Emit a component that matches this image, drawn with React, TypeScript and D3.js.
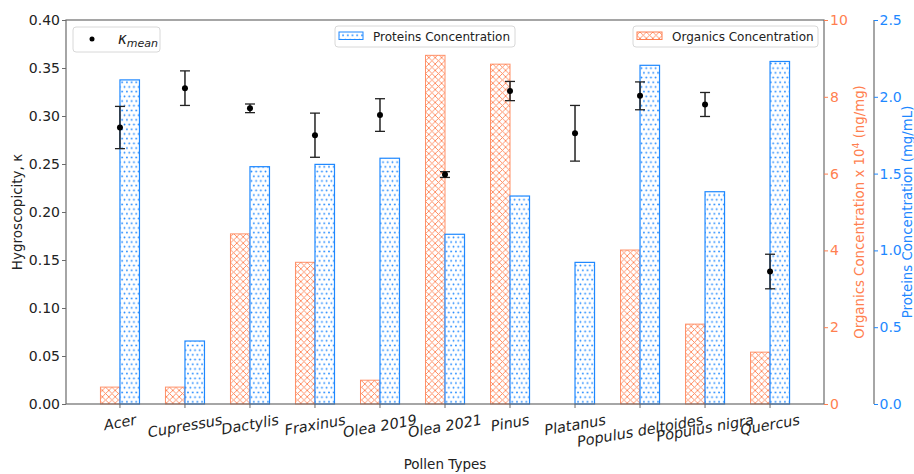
import React, { useEffect, useRef } from 'react';
import * as d3 from 'd3';

const categories = [
  'Acer', 'Cupressus', 'Dactylis', 'Fraxinus', 'Olea 2019', 'Olea 2021',
  'Pinus', 'Platanus', 'Populus deltoides', 'Populus nigra', 'Quercus',
];
const kappaMean = [0.288, 0.329, 0.308, 0.280, 0.301, 0.239, 0.326, 0.282, 0.321, 0.312, 0.138];
const kappaErr = [0.022, 0.018, 0.0045, 0.023, 0.017, 0.003, 0.010, 0.029, 0.0145, 0.0125, 0.018];
const organics = [0.44, 0.44, 4.43, 3.69, 0.62, 9.08, 8.85, 0, 4.01, 2.08, 1.35];
const proteins = [2.11, 0.41, 1.545, 1.56, 1.6, 1.105, 1.354, 0.922, 2.205, 1.382, 2.23];

const kappaTicks = [0, 0.05, 0.1, 0.15, 0.2, 0.25, 0.3, 0.35, 0.4];
const organicsTicks = [0, 2, 4, 6, 8, 10];
const proteinsTicks = [0, 0.5, 1.0, 1.5, 2.0, 2.5];

const ORANGE = '#ff7f50';
const BLUE = '#1e88ff';
const SPINE = '#6b6b6b';
const FONT = 'DejaVu Sans, sans-serif';

export default function App() {
  const svgRef = useRef<SVGSVGElement>(null);

  useEffect(() => {
    if (!svgRef.current) return;
    const svg = d3.select(svgRef.current);
    svg.selectAll('*').remove();

    const left = 66, right = 824, top = 20, bottom = 404;
    const protAxisX = 874;
    const barW = 0.3;
    const pad = 0.05 * (categories.length - 1 + 2 * barW);

    const x = d3.scaleLinear()
      .domain([-barW - pad, categories.length - 1 + barW + pad])
      .range([left, right]);
    const yK = d3.scaleLinear().domain([0, 0.4]).range([bottom, top]);
    const yO = d3.scaleLinear().domain([0, 10]).range([bottom, top]);
    const yP = d3.scaleLinear().domain([0, 2.5]).range([bottom, top]);

    // hatch patterns
    const defs = svg.append('defs');
    const s = 6.4;
    const cross = defs.append('pattern')
      .attr('id', 'hatch-x')
      .attr('patternUnits', 'userSpaceOnUse')
      .attr('width', s).attr('height', s);
    cross.append('rect').attr('width', s).attr('height', s).attr('fill', 'white');
    cross.append('path')
      .attr('d', `M0,0L${s},${s}M0,${s}L${s},0`)
      .attr('stroke', ORANGE).attr('stroke-width', 0.85);

    const ds = 4.7;
    const dots = defs.append('pattern')
      .attr('id', 'hatch-dot')
      .attr('patternUnits', 'userSpaceOnUse')
      .attr('width', ds).attr('height', ds * 2);
    dots.append('rect').attr('width', ds).attr('height', ds * 2).attr('fill', 'white');
    dots.append('circle').attr('cx', ds / 2).attr('cy', ds / 2).attr('r', 0.9).attr('fill', BLUE);
    dots.append('circle').attr('cx', 0).attr('cy', ds * 1.5).attr('r', 0.9).attr('fill', BLUE);
    dots.append('circle').attr('cx', ds).attr('cy', ds * 1.5).attr('r', 0.9).attr('fill', BLUE);

    // bars
    svg.append('g').selectAll('rect')
      .data(organics)
      .join('rect')
      .attr('x', (_, i) => x(i - barW))
      .attr('y', d => yO(d))
      .attr('width', (_, i) => x(i) - x(i - barW))
      .attr('height', d => yO(0) - yO(d))
      .attr('fill', 'url(#hatch-x)')
      .attr('stroke', ORANGE)
      .attr('stroke-opacity', 0.85)
      .attr('stroke-width', d => (d > 0 ? 1 : 0));

    svg.append('g').selectAll('rect')
      .data(proteins)
      .join('rect')
      .attr('x', (_, i) => x(i))
      .attr('y', d => yP(d))
      .attr('width', (_, i) => x(i + barW) - x(i))
      .attr('height', d => yP(0) - yP(d))
      .attr('fill', 'url(#hatch-dot)')
      .attr('stroke', BLUE)
      .attr('stroke-width', 1.2);

    // error bars + mean points
    const eb = svg.append('g');
    kappaMean.forEach((k, i) => {
      const cx = x(i);
      const y1 = yK(k + kappaErr[i]);
      const y2 = yK(k - kappaErr[i]);
      eb.append('line').attr('x1', cx).attr('x2', cx).attr('y1', y1).attr('y2', y2)
        .attr('stroke', '#222').attr('stroke-width', 1.5);
      [y1, y2].forEach(yy => {
        eb.append('line').attr('x1', cx - 5).attr('x2', cx + 5).attr('y1', yy).attr('y2', yy)
          .attr('stroke', '#222').attr('stroke-width', 1.3);
      });
      eb.append('circle').attr('cx', cx).attr('cy', yK(k)).attr('r', 3).attr('fill', 'black');
    });

    // spines
    const sp = svg.append('g').attr('stroke', SPINE).attr('stroke-width', 1.2).attr('fill', 'none');
    sp.append('rect').attr('x', left).attr('y', top).attr('width', right - left).attr('height', bottom - top);
    sp.append('line').attr('x1', protAxisX).attr('x2', protAxisX).attr('y1', top).attr('y2', bottom);

    // left axis
    const gl = svg.append('g')
      .attr('transform', `translate(${left},0)`)
      .call(d3.axisLeft(yK).tickValues(kappaTicks).tickFormat(d3.format('.2f')).tickSize(4).tickPadding(2).tickSizeOuter(0));
    gl.select('.domain').remove();
    gl.selectAll('line').attr('stroke', SPINE);
    gl.selectAll('text').attr('fill', '#222').style('font-size', '14px').style('font-family', FONT);

    // organics axis
    const go = svg.append('g')
      .attr('transform', `translate(${right},0)`)
      .call(d3.axisRight(yO).tickValues(organicsTicks).tickFormat(d3.format('d')).tickSize(4).tickPadding(2).tickSizeOuter(0));
    go.select('.domain').remove();
    go.selectAll('line').attr('stroke', ORANGE);
    go.selectAll('text').attr('fill', ORANGE).style('font-size', '14px').style('font-family', FONT);

    // proteins axis
    const gp = svg.append('g')
      .attr('transform', `translate(${protAxisX},0)`)
      .call(d3.axisRight(yP).tickValues(proteinsTicks).tickFormat(d3.format('.1f')).tickSize(4).tickPadding(1.5).tickSizeOuter(0));
    gp.select('.domain').remove();
    gp.selectAll('line').attr('stroke', BLUE);
    gp.selectAll('text').attr('fill', BLUE).style('font-size', '14px').style('font-family', FONT);

    // x ticks + rotated italic labels
    const gx = svg.append('g');
    const rot = 10;
    const rad = (rot * Math.PI) / 180;
    categories.forEach((c, i) => {
      const cx = x(i);
      gx.append('line').attr('x1', cx).attr('x2', cx).attr('y1', bottom).attr('y2', bottom + 4)
        .attr('stroke', SPINE).attr('stroke-width', 1);
      const t = gx.append('text')
        .attr('text-anchor', 'middle')
        .attr('font-family', FONT)
        .attr('font-style', 'italic')
        .attr('font-size', 14.5)
        .attr('fill', '#222')
        .text(c);
      const w = (t.node() as SVGTextElement).getComputedTextLength();
      const h = 14.5 * 1.05;
      const bh = w * Math.sin(rad) + h * Math.cos(rad);
      const cy = bottom + 8 + bh / 2;
      t.attr('x', cx).attr('y', cy).attr('dy', '0.35em')
        .attr('transform', `rotate(${-rot},${cx},${cy})`);
    });

    // axis labels
    svg.append('text')
      .attr('x', (left + right) / 2).attr('y', 469)
      .attr('text-anchor', 'middle')
      .attr('font-family', FONT).attr('font-size', 13.5).attr('fill', '#222')
      .text('Pollen Types');

    svg.append('text')
      .attr('transform', `translate(22,${(top + bottom) / 2}) rotate(-90)`)
      .attr('text-anchor', 'middle')
      .attr('font-family', FONT).attr('font-size', 13.5).attr('fill', '#222')
      .text('Hygroscopicity, κ');

    const ol = svg.append('text')
      .attr('transform', `translate(864,${(top + bottom) / 2}) rotate(-90)`)
      .attr('text-anchor', 'middle')
      .attr('font-family', FONT).attr('font-size', 13.3).attr('fill', ORANGE);
    ol.append('tspan').text('Organics Concentration x 10');
    ol.append('tspan').attr('font-size', 9.5).attr('dy', -5).text('4');
    ol.append('tspan').attr('dy', 5).text(' (ng/mg)');

    svg.append('text')
      .attr('transform', `translate(912,${(top + bottom) / 2}) rotate(-90)`)
      .attr('text-anchor', 'middle')
      .attr('font-family', FONT).attr('font-size', 13.3).attr('fill', BLUE)
      .text('Proteins Concentration (mg/mL)');

    // legends
    const legendBox = (x0: number, y0: number, w: number, h: number) =>
      svg.append('rect').attr('x', x0).attr('y', y0).attr('width', w).attr('height', h)
        .attr('rx', 3).attr('fill', 'white').attr('fill-opacity', 0.85)
        .attr('stroke', '#d8d8d8').attr('stroke-width', 1);

    legendBox(73, 27, 87, 25);
    svg.append('circle').attr('cx', 92).attr('cy', 39).attr('r', 2.5).attr('fill', 'black');
    const km = svg.append('text').attr('x', 118).attr('y', 44)
      .attr('font-family', FONT).attr('font-style', 'italic').attr('fill', '#222');
    km.append('tspan').attr('font-size', 15).text('κ');
    km.append('tspan').attr('font-size', 11).attr('dy', 3).text('mean');

    legendBox(335, 26, 180, 21);
    svg.append('rect').attr('x', 339).attr('y', 32).attr('width', 24).attr('height', 7.5)
      .attr('fill', 'url(#hatch-dot)').attr('stroke', BLUE).attr('stroke-width', 1);
    svg.append('text').attr('x', 373).attr('y', 36.5).attr('dy', '0.35em')
      .attr('font-family', FONT).attr('font-size', 12).attr('fill', '#222')
      .text('Proteins Concentration');

    legendBox(633, 26, 185, 21);
    svg.append('rect').attr('x', 637).attr('y', 32).attr('width', 25).attr('height', 7.5)
      .attr('fill', 'url(#hatch-x)').attr('stroke', ORANGE).attr('stroke-width', 1);
    svg.append('text').attr('x', 672).attr('y', 36.5).attr('dy', '0.35em')
      .attr('font-family', FONT).attr('font-size', 12).attr('fill', '#222')
      .text('Organics Concentration');
  }, []);

  return (
    <svg
      ref={svgRef}
      width={914}
      height={474}
      style={{ position: 'absolute', left: 0, top: 0, background: 'white' }}
    />
  );
}
